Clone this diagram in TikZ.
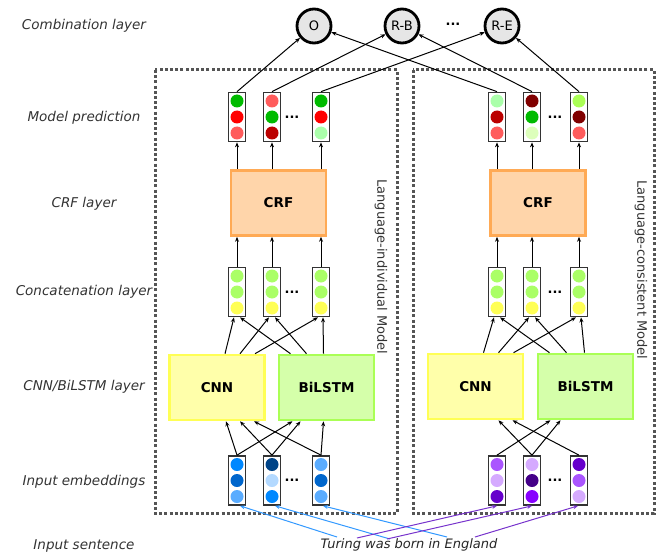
\documentclass[tikz,border=0pt]{standalone}
\usepackage{fontspec}
\setmainfont{DejaVu Sans}
\usetikzlibrary{arrows.meta,calc}
\definecolor{labelgray}{HTML}{333333}
\definecolor{boxgray}{HTML}{333333}
\definecolor{dotgray}{HTML}{555555}
\definecolor{combofill}{HTML}{E6E6E6}
\definecolor{crffill}{HTML}{FFD5AA}
\definecolor{crfdraw}{HTML}{FFAA55}
\definecolor{cnnfill}{HTML}{FFFFAA}
\definecolor{cnndraw}{HTML}{FFFF55}
\definecolor{lstmfill}{HTML}{D5FFAA}
\definecolor{lstmdraw}{HTML}{AAFF55}
\definecolor{gr}{HTML}{00BB00}
\definecolor{rd}{HTML}{FF0000}
\definecolor{lrd}{HTML}{FF5C5C}
\definecolor{drd}{HTML}{BB0000}
\definecolor{ddrd}{HTML}{800000}
\definecolor{lgr}{HTML}{AAFFAA}
\definecolor{vlgr}{HTML}{DDFFBB}
\definecolor{ygr}{HTML}{AAFF55}
\definecolor{cgr}{HTML}{AAFF66}
\definecolor{cyl}{HTML}{FFFF55}
\definecolor{b1}{HTML}{0088FF}
\definecolor{b2}{HTML}{0066CC}
\definecolor{b3}{HTML}{5AACFF}
\definecolor{b4}{HTML}{004488}
\definecolor{b5}{HTML}{B3D9FF}
\definecolor{p1}{HTML}{AA55FF}
\definecolor{p2}{HTML}{D5AAFF}
\definecolor{p3}{HTML}{6600CC}
\definecolor{p4}{HTML}{440088}
\definecolor{p5}{HTML}{8800FF}
\definecolor{bluearr}{HTML}{3399FF}
\definecolor{purparr}{HTML}{7733CC}
\newcommand\mkvec[6]{%
  \node[vbox] (#1) at (#2,#3) {};
  \node[dotc, fill=#4] (#1a) at (#2,#3-16) {};
  \node[dotc, fill=#5] (#1b) at (#2,#3) {};
  \node[dotc, fill=#6] (#1c) at (#2,#3+16) {};
}
\begin{document}
\begin{tikzpicture}[x=1pt,y=-1pt,
  lbl/.style={font=\fontsize{13.5}{16}\selectfont\itshape, text=labelgray},
  vlbl/.style={font=\fontsize{13}{16}\selectfont, text=labelgray, rotate=-90},
  vbox/.style={draw=boxgray, line width=1.7pt, fill=white, minimum width=17pt, minimum height=49pt, inner sep=0pt},
  dotc/.style={circle, inner sep=0pt, minimum size=13pt},
  combo/.style={circle, draw=black, line width=2.8pt, fill=combofill, minimum size=34pt, inner sep=0pt, font=\fontsize{13}{15}\selectfont},
  blk/.style={minimum width=95pt, minimum height=65pt, line width=2.6pt, font=\bfseries\fontsize{13.5}{15}\selectfont},
  crfbox/.style={blk, draw=crfdraw, fill=crffill},
  cnnbox/.style={blk, draw=cnndraw, fill=cnnfill},
  lstmbox/.style={blk, draw=lstmdraw, fill=lstmfill},
  arr/.style={-{Stealth[length=5pt,width=4pt]}, line width=1pt},
  modelbox/.style={draw=dotgray, line width=3pt, dash pattern=on 3pt off 2.2pt},
  ddd/.style={font=\bfseries\fontsize{13}{14}\selectfont, inner sep=1pt}
]
\useasboundingbox (0,0) rectangle (660,556);

% layer labels
\node[lbl] (l1) at (84,26) {Combination layer};
\node[lbl] (l2) at (84,118) {Model prediction};
\node[lbl] (l3) at (84,204) {CRF layer};
\node[lbl] (l4) at (84,292) {Concatenation layer};
\node[lbl] (l5) at (84,387) {CNN/BiLSTM layer};
\node[lbl] (l6) at (84,482) {Input embeddings};
\node[lbl] (l7) at (84,546) {Input sentence};

% model boxes
\draw[modelbox] (155,70) rectangle (397,513);
\draw[modelbox] (413,70) rectangle (654,513);
\node[vlbl] (vlL) at (381,267) {Language-individual Model};
\node[vlbl] (vlR) at (641,270) {Language-consistent Model};

% combination
\node[combo] (cO) at (314,26) {O};
\node[combo] (cRB) at (402,26) {R-B};
\node[ddd] (cdd) at (453,24) {...};
\node[combo] (cRE) at (502,26) {R-E};

% prediction vectors
\mkvec{pL1}{237}{117}{gr}{rd}{lrd}
\mkvec{pL2}{272}{117}{lrd}{gr}{drd}
\mkvec{pL3}{321}{117}{gr}{rd}{lgr}
\node[ddd] (pLd) at (292,117) {...};
\mkvec{pR1}{497}{117}{lgr}{drd}{lrd}
\mkvec{pR2}{532}{117}{ddrd}{gr}{vlgr}
\mkvec{pR3}{579}{117}{ygr}{ddrd}{lrd}
\node[ddd] (pRd) at (555,117) {...};

% CRF
\node[crfbox] (crfL) at (278.5,203) {CRF};
\node[crfbox] (crfR) at (538,203) {CRF};

% concatenation vectors
\mkvec{cL1}{237}{292}{cgr}{cgr}{cyl}
\mkvec{cL2}{272}{292}{cgr}{cgr}{cyl}
\mkvec{cL3}{321}{292}{cgr}{cgr}{cyl}
\node[ddd] (cLd) at (292,292) {...};
\mkvec{cR1}{497}{292}{cgr}{cgr}{cyl}
\mkvec{cR2}{532}{292}{cgr}{cgr}{cyl}
\mkvec{cR3}{579}{292}{cgr}{cgr}{cyl}
\node[ddd] (cRd) at (555,292) {...};

% CNN / BiLSTM
\node[cnnbox] (cnnL) at (217,387.5) {CNN};
\node[lstmbox] (lstmL) at (326.5,387.5) {BiLSTM};
\node[cnnbox] (cnnR) at (475.5,386.5) {CNN};
\node[lstmbox] (lstmR) at (585.5,386.5) {BiLSTM};

% input embeddings
\mkvec{eL1}{237}{480.5}{b1}{b2}{b3}
\mkvec{eL2}{272}{480.5}{b4}{b5}{b1}
\mkvec{eL3}{321}{480.5}{b3}{b2}{b3}
\node[ddd] (eLd) at (292,480.5) {...};
\mkvec{eR1}{497}{480.5}{p1}{p2}{p3}
\mkvec{eR2}{532}{480.5}{p2}{p4}{p5}
\mkvec{eR3}{579}{480.5}{p3}{p1}{p2}
\node[ddd] (eRd) at (555,480.5) {...};

% sentence
\node[font=\fontsize{13}{16}\selectfont\itshape, text=black!85] (sent) at (409,545) {Turing was born in England};
\coordinate (sb1) at (337,537);
\coordinate (sb2) at (390,539);
\coordinate (sb3) at (447,537);
\coordinate (sp1) at (357,538);
\coordinate (sp2) at (387,539);
\coordinate (sp3) at (475,537);

% sentence -> embeddings
\draw[arr, draw=bluearr] (sb1) -- ([xshift=3pt]eL1.south);
\draw[arr, draw=bluearr] (sb2) -- ([xshift=3pt]eL2.south);
\draw[arr, draw=bluearr] (sb3) -- ([xshift=2pt]eL3.south);
\draw[arr, draw=purparr] (sp1) -- (eR1.south);
\draw[arr, draw=purparr] (sp2) -- (eR2.south);
\draw[arr, draw=purparr] (sp3) -- ([xshift=-1pt]eR3.south);

% embeddings -> CNN/BiLSTM
\draw[arr] (eL1.north) -- ([xshift=9pt]cnnL.south);
\draw[arr] (eL1.north) -- ([xshift=-34pt]lstmL.south);
\draw[arr] (eL2.north) -- ([xshift=23pt]cnnL.south);
\draw[arr] (eL2.north) -- ([xshift=-26pt]lstmL.south);
\draw[arr] (eL3.north) -- ([xshift=37pt]cnnL.south);
\draw[arr] (eL3.north) -- ([xshift=-3pt]lstmL.south);
\draw[arr] (eR1.north) -- ([xshift=-35pt]lstmR.south);
\draw[arr] (eR2.north) -- ([xshift=23pt]cnnR.south);
\draw[arr] (eR2.north) -- ([xshift=-25pt]lstmR.south);
\draw[arr] (eR3.north) -- ([xshift=37pt]cnnR.south);

% CNN/BiLSTM -> concatenation
\draw[arr] ([xshift=8pt]cnnL.north) -- ([xshift=-3pt]cL1.south);
\draw[arr] ([xshift=23pt]cnnL.north) -- ([xshift=-3pt]cL2.south);
\draw[arr] ([xshift=38pt]cnnL.north) -- ([xshift=-3pt]cL3.south);
\draw[arr] ([xshift=-36pt]lstmL.north) -- ([xshift=3pt]cL1.south);
\draw[arr] ([xshift=-20pt]lstmL.north) -- ([xshift=3pt]cL2.south);
\draw[arr] ([xshift=-3pt]lstmL.north) -- ([xshift=2pt]cL3.south);
\draw[arr] ([xshift=8pt]cnnR.north) -- ([xshift=-3pt]cR1.south);
\draw[arr] ([xshift=23pt]cnnR.north) -- ([xshift=-3pt]cR2.south);
\draw[arr] ([xshift=38pt]cnnR.north) -- ([xshift=-3pt]cR3.south);
\draw[arr] ([xshift=-36pt]lstmR.north) -- ([xshift=3pt]cR1.south);
\draw[arr] ([xshift=-19pt]lstmR.north) -- ([xshift=3pt]cR2.south);
\draw[arr] ([xshift=-1pt]lstmR.north) -- ([xshift=2pt]cR3.south);

% concatenation -> CRF
\foreach \n in {cL1,cL2,cL3} \draw[arr] (\n.north) -- (\n.north |- crfL.south);
\foreach \n in {cR1,cR2,cR3} \draw[arr] (\n.north) -- (\n.north |- crfR.south);
% CRF -> prediction
\foreach \n in {pL1,pL2,pL3} \draw[arr] (\n.south |- crfL.north) -- (\n.south);
\foreach \n in {pR1,pR2,pR3} \draw[arr] (\n.south |- crfR.north) -- (\n.south);

% prediction -> combination
\draw[arr] (pL1.north) -- (cO);
\draw[arr] (pL2.north) -- (cRB);
\draw[arr] (pL3.north) -- (cRE);
\draw[arr] (pR1.north) -- (cO);
\draw[arr] (pR2.north) -- (cRB);
\draw[arr] (pR3.north) -- (cRE);
\end{tikzpicture}
\end{document}
